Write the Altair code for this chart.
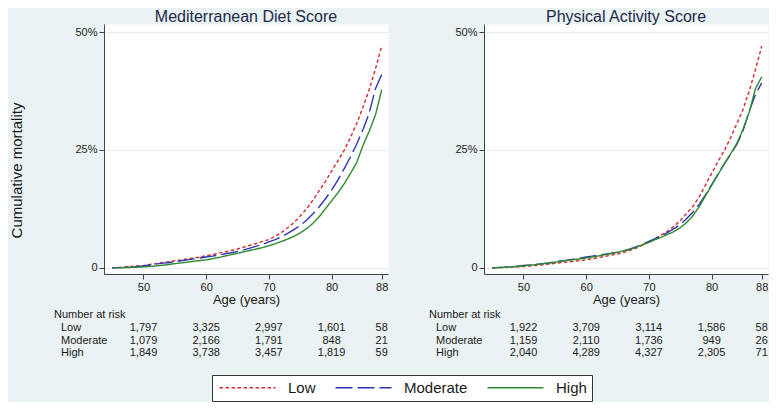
import altair as alt
import pandas as pd

FONT = "Liberation Sans, Arial, sans-serif"

ages = list(range(45, 89))
groups = ["Low", "Moderate", "High"]
colors = ["#D42A2A", "#2B35B5", "#2F8A2F"]
dashes = [[3.5, 2.5], [17, 5], [1, 0]]

# Mediterranean Diet Score (cumulative mortality, %)
med_low = [0, 0.1, 0.2, 0.3, 0.4, 0.5, 0.7, 0.9, 1.1, 1.3, 1.5, 1.7, 1.9, 2.1, 2.3,
           2.6, 2.8, 3.1, 3.4, 3.7, 4.0, 4.4, 4.8, 5.2, 5.6, 6.0, 6.7, 7.5, 8.5, 9.6,
           11.0, 12.5, 14.3, 16.3, 18.3, 20.5, 22.7, 24.9, 27.6, 30.6, 34.0, 37.8, 42.2, 47.0]
med_mod = [0, 0.05, 0.1, 0.2, 0.3, 0.4, 0.6, 0.8, 1.0, 1.1, 1.3, 1.5, 1.7, 1.9, 2.1,
           2.3, 2.5, 2.7, 3.0, 3.2, 3.5, 3.8, 4.2, 4.6, 5.0, 5.5, 6.0, 6.6, 7.3, 8.1,
           9.0, 10.1, 11.4, 12.9, 14.6, 16.5, 18.6, 21.0, 23.5, 26.2, 29.3, 32.8, 38.0, 41.0]
med_high = [0, 0, 0.05, 0.1, 0.15, 0.2, 0.3, 0.4, 0.55, 0.7, 0.9, 1.05, 1.2, 1.4, 1.55,
            1.7, 1.95, 2.2, 2.5, 2.8, 3.1, 3.4, 3.7, 4.0, 4.3, 4.7, 5.1, 5.6, 6.1, 6.7,
            7.4, 8.3, 9.4, 10.8, 12.5, 14.2, 15.9, 17.8, 20.0, 22.3, 25.9, 29.0, 32.4, 37.8]

# Physical Activity Score (cumulative mortality, %)
pa_low = [0, 0.05, 0.1, 0.15, 0.2, 0.3, 0.4, 0.5, 0.65, 0.8, 0.95, 1.1, 1.25, 1.4, 1.55,
          1.7, 1.95, 2.2, 2.45, 2.7, 2.95, 3.3, 3.7, 4.2, 4.8, 5.5, 6.2, 7.0, 7.8, 8.8,
          10.0, 11.5, 13.0, 15.0, 17.5, 20.0, 22.5, 24.8, 27.5, 30.5, 33.5, 37.5, 42.0, 47.0]
pa_mod = [0, 0.1, 0.15, 0.25, 0.35, 0.5, 0.6, 0.75, 0.9, 1.05, 1.25, 1.45, 1.65, 1.85, 2.05,
          2.3, 2.5, 2.7, 2.9, 3.1, 3.35, 3.65, 4.0, 4.5, 5.0, 5.6, 6.2, 6.8, 7.5, 8.3,
          9.2, 10.4, 11.8, 13.4, 15.4, 17.6, 19.8, 22.0, 24.0, 26.1, 29.0, 33.2, 36.8, 39.2]
pa_high = [0, 0.05, 0.1, 0.2, 0.3, 0.45, 0.55, 0.7, 0.85, 1.0, 1.2, 1.4, 1.6, 1.75, 1.9,
           2.1, 2.3, 2.55, 2.8, 3.05, 3.3, 3.6, 3.9, 4.4, 4.9, 5.4, 6.0, 6.5, 7.1, 7.7,
           8.5, 9.6, 11.0, 12.9, 15.2, 17.5, 19.7, 22.0, 24.1, 26.3, 29.3, 33.0, 38.0, 40.5]

# Number at risk
risk_ages = [50, 60, 70, 80, 88]
med_risk_low = ["1,797", "3,325", "2,997", "1,601", "58"]
med_risk_mod = ["1,079", "2,166", "1,791", "848", "21"]
med_risk_high = ["1,849", "3,738", "3,457", "1,819", "59"]
pa_risk_low = ["1,922", "3,709", "3,114", "1,586", "58"]
pa_risk_mod = ["1,159", "2,110", "1,736", "949", "26"]
pa_risk_high = ["2,040", "4,289", "4,327", "2,305", "71"]

x_ticks = [50, 60, 70, 80, 88]
y_ticks = [0, 25, 50]

W, H = 284, 250
ROW_Y = [304, 317, 329]
HEAD_Y = 291


def panel(title, curves, risks, with_ytitle, head_x, row_x):
    rows = []
    for g, vals in zip(groups, curves):
        for a, v in zip(ages, vals):
            rows.append({"age": a, "pct": v, "group": g})
    df = pd.DataFrame(rows)

    xs = alt.Scale(domain=[43.7, 89.0], nice=False, zero=False)
    ys = alt.Scale(domain=[-1.3, 51.7], nice=False, zero=False)

    xaxis = alt.Axis(values=x_ticks, format="d", labelFlush=False, grid=False,
                     titlePadding=1, labelPadding=2)
    ykw = dict(values=y_ticks, grid=True,
               labelExpr="datum.value == 0 ? '0' : datum.value + '%'",
               labelPadding=2)
    if with_ytitle:
        ykw.update(titleX=-88, titleY=146, titleAngle=270, titleBaseline="middle",
                   titleAlign="center", titleFontSize=15)
        ytitle = "Cumulative mortality"
    else:
        ytitle = None

    # long horizontal line symbol: 56 px with symbolSize 100 (scale factor 5)
    leg = alt.Legend(title=None, orient="none", legendX=108, legendY=351,
                     direction="horizontal", columns=3,
                     symbolType="M-1,0H10.2", symbolSize=100,
                     symbolStrokeWidth=1.4, labelFontSize=15,
                     labelFont=FONT, labelColor="#1a1a1a", labelOffset=56,
                     columnPadding=16, padding=5, fillColor="white",
                     strokeColor="#333333", cornerRadius=0)

    lines = alt.Chart(df).mark_line(strokeWidth=1.4).encode(
        x=alt.X("age:Q", scale=xs, axis=xaxis, title="Age (years)"),
        y=alt.Y("pct:Q", scale=ys, axis=alt.Axis(**ykw), title=ytitle),
        color=alt.Color("group:N", scale=alt.Scale(domain=groups, range=colors),
                        legend=leg),
        strokeDash=alt.StrokeDash("group:N",
                                  scale=alt.Scale(domain=groups, range=dashes),
                                  legend=leg),
        detail="group:N",
    )

    layers = [lines]
    head = alt.Chart(pd.DataFrame({"t": ["Number at risk"]})).mark_text(
        align="left", baseline="middle", fontSize=11, font=FONT, color="#1a1a1a"
    ).encode(x=alt.value(head_x), y=alt.value(HEAD_Y), text="t:N")
    layers.append(head)

    for i, (g, r) in enumerate(zip(groups, risks)):
        lab = alt.Chart(pd.DataFrame({"t": [g]})).mark_text(
            align="left", baseline="middle", fontSize=11, font=FONT, color="#1a1a1a"
        ).encode(x=alt.value(row_x), y=alt.value(ROW_Y[i]), text="t:N")
        nums = alt.Chart(pd.DataFrame({"age": risk_ages, "n": r})).mark_text(
            align="center", baseline="middle", fontSize=11, font=FONT, color="#1a1a1a"
        ).encode(x=alt.X("age:Q", scale=xs, title="Age (years)"),
                 y=alt.value(ROW_Y[i]), text="n:N")
        layers += [lab, nums]

    return alt.layer(*layers).properties(
        width=W, height=H,
        title=alt.TitleParams(title, fontSize=16, font=FONT, color="#1C2A48",
                              fontWeight="normal", anchor="middle", offset=-1),
    )


left = panel("Mediterranean Diet Score", [med_low, med_mod, med_high],
             [med_risk_low, med_risk_mod, med_risk_high], True, -50, -43)
right = panel("Physical Activity Score", [pa_low, pa_mod, pa_high],
              [pa_risk_low, pa_risk_mod, pa_risk_high], False, -55, -48)

chart = alt.hconcat(left, right, spacing=39).resolve_scale(
    color="shared", strokeDash="shared"
).configure(
    background="#EAF2F3", padding=0
).configure_view(
    fill="white", stroke="transparent"
).configure_axis(
    labelFont=FONT, titleFont=FONT, labelFontSize=11, titleFontSize=13,
    titleFontWeight="normal", labelColor="#222222", titleColor="#1a1a1a",
    domainColor="#444444", tickColor="#444444", tickSize=5,
    gridColor="#E4ECEF", gridWidth=1
)

chart.save("out.html", embed_options={"renderer": "svg", "actions": False})
